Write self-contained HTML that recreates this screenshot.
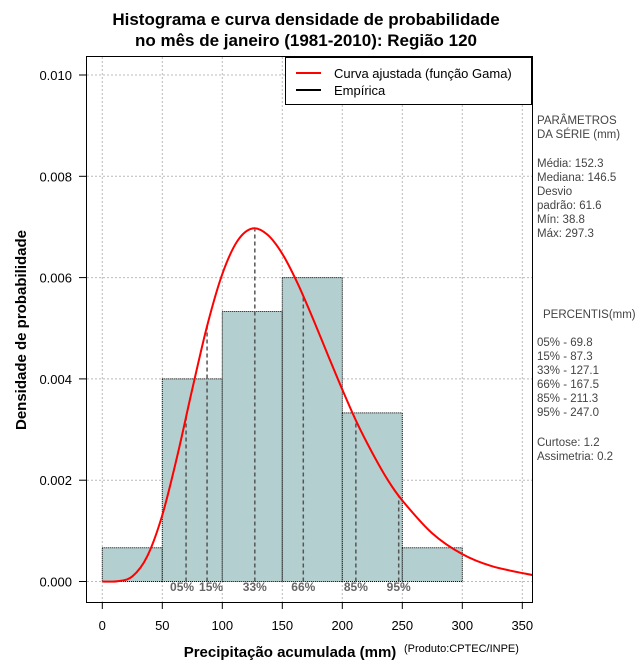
<!DOCTYPE html>
<html><head><meta charset="utf-8"><style>
body{margin:0;background:#fff;}
svg{display:block;font-family:"Liberation Sans",sans-serif;}
</style></head><body>
<svg id="chart" width="640" height="660">
<rect width="640" height="660" fill="#fff"/>
<text x="306" y="25" text-anchor="middle" font-size="17" font-weight="bold">Histograma e curva densidade de probabilidade</text>
<text x="306" y="46" text-anchor="middle" font-size="17" font-weight="bold">no mês de janeiro (1981-2010): Região 120</text>
<g id="grid"></g>
<g id="bars"></g>
<g id="pct"></g>
<path id="curve" fill="none" stroke="#ff0000" stroke-width="2"/>
<rect x="86.5" y="56.5" width="446" height="546" fill="none" stroke="#000"/>
<g id="axes" font-size="13"></g>
<text x="290" y="657" text-anchor="middle" font-size="15" font-weight="bold">Precipitação acumulada (mm)</text>
<text x="404" y="652" font-size="11">(Produto:CPTEC/INPE)</text>
<text transform="translate(26,330) rotate(-90)" text-anchor="middle" font-size="15" font-weight="bold">Densidade de probabilidade</text>
<g>
<rect x="285.5" y="57.5" width="246" height="47" fill="#fff" stroke="#000"/>
<line x1="296" y1="73" x2="321" y2="73" stroke="#ff0000" stroke-width="2"/>
<text x="334" y="78" font-size="13">Curva ajustada (função Gama)</text>
<line x1="296" y1="90" x2="321" y2="90" stroke="#000" stroke-width="2"/>
<text x="334" y="95" font-size="13">Empírica</text>
</g>
<g font-size="11.5" fill="#444" style="white-space:pre" xml:space="preserve">
<text x="537" y="124">PARÂMETROS</text>
<text x="537" y="138"> DA SÉRIE (mm)</text>
<text x="537" y="167">Média:  152.3</text>
<text x="537" y="181">Mediana:  146.5</text>
<text x="537" y="195">Desvio</text>
<text x="537" y="209">padrão:  61.6</text>
<text x="537" y="223">Mín:  38.8</text>
<text x="537" y="237">Máx:  297.3</text>
<text x="543" y="318">PERCENTIS(mm)</text>
<text x="537" y="346">05% -  69.8</text>
<text x="537" y="360">15% -  87.3</text>
<text x="537" y="374">33% -  127.1</text>
<text x="537" y="388">66% -  167.5</text>
<text x="537" y="402">85% -  211.3</text>
<text x="537" y="416">95% -  247.0</text>
<text x="537" y="446">Curtose:  1.2</text>
<text x="537" y="460">Assimetria:  0.2</text>
</g>
</svg>
<script>
const binStarts=[0,50,100,150,200,250];
const binDensity=[0.000667,0.004,0.00533,0.006,0.00333,0.000667];
const curveX=[0,12.5,25,37.5,50,62.5,75,87.5,100,112.5,125,137.5,150,162.5,175,187.5,200,212.5,225,237.5,250,275,300,325,360];
const curveY=[0,0.000005,0.0001,0.0005,0.00131,0.00248,0.0038,0.00506,0.00607,0.00672,0.00697,0.00685,0.00647,0.0059,0.00522,0.0045,0.00379,0.00312,0.00254,0.00202,0.0016,0.00095,0.00054,0.0003,0.00012];
const pctLabels=["05%","15%","33%","66%","85%","95%"];
const pctValues=[69.8,87.3,127.1,167.5,211.3,247.0];
const xTicks=[0,50,100,150,200,250,300,350];
const yTicks=[0,0.002,0.004,0.006,0.008,0.010];
const binWidth=50;
const NS="http://www.w3.org/2000/svg";
const X=v=>102.3+v*1.2;
const Y=v=>581.5-v*50650;
function mk(tag,attrs,parent){const e=document.createElementNS(NS,tag);for(const k in attrs)e.setAttribute(k,attrs[k]);parent.appendChild(e);return e;}
const grid=document.getElementById('grid'),bars=document.getElementById('bars'),pct=document.getElementById('pct'),axes=document.getElementById('axes');
xTicks.forEach(t=>{
 const l=mk('line',{x1:X(t),x2:X(t),y1:57,y2:602,stroke:'#bbb','stroke-dasharray':'2,2'},grid);
 
 
 const tk=mk('line',{x1:X(t),x2:X(t),y1:602,y2:609,stroke:'#000'},axes);
 
 
 const tx=mk('text',{x:X(t),y:630,'text-anchor':'middle'},axes);tx.textContent=t;
 
 
});
yTicks.forEach(t=>{
 const l=mk('line',{x1:87,x2:532,y1:Y(t),y2:Y(t),stroke:'#bbb','stroke-dasharray':'2,2'},grid);
 
 
 const tk=mk('line',{x1:79,x2:87,y1:Y(t),y2:Y(t),stroke:'#000'},axes);
 
 
 const tx=mk('text',{x:72,y:Y(t)+5,'text-anchor':'end'},axes);tx.textContent=t.toFixed(3);
 
 
});
binStarts.forEach((b,i)=>{
 const r=mk('rect',{x:X(b),y:Y(binDensity[i]),width:binWidth*1.2,height:Y(0)-Y(binDensity[i]),fill:'#b4cfcf',stroke:'#000','stroke-dasharray':'1,1'},bars);
 
 
});
function interp(x){for(let i=1;i<curveX.length;i++){if(x<=curveX[i]){const t=(x-curveX[i-1])/(curveX[i]-curveX[i-1]);return curveY[i-1]+t*(curveY[i]-curveY[i-1]);}}return curveY[curveY.length-1];}
pctValues.forEach((v,i)=>{
 const l=mk('line',{x1:X(v),x2:X(v),y1:Y(0),y2:Y(interp(v)),stroke:'#555','stroke-width':1.5,'stroke-dasharray':'4,3'},pct);
 
 
 const t=mk('text',{x:X(v)-(i==0?4:i==1?-4:0),y:591,'text-anchor':'middle','font-size':12,'font-weight':'bold',fill:'#666'},pct);t.textContent=pctLabels[i];
 
 
});
const pts=curveX.map((x,i)=>[X(x),Y(curveY[i])]);
let d='M'+pts[0][0]+','+pts[0][1];
for(let i=0;i<pts.length-1;i++){const p0=pts[Math.max(0,i-1)],p1=pts[i],p2=pts[i+1],p3=pts[Math.min(pts.length-1,i+2)];
 d+=' C'+(p1[0]+(p2[0]-p0[0])/6)+','+(p1[1]+(p2[1]-p0[1])/6)+' '+(p2[0]-(p3[0]-p1[0])/6)+','+(p2[1]-(p3[1]-p1[1])/6)+' '+p2[0]+','+p2[1];}
const c=document.getElementById('curve');c.setAttribute('d',d);
const cpEl=mk('clipPath',{id:'cp'},document.getElementById('chart'));
mk('rect',{x:87,y:57,width:445,height:545},cpEl);
c.setAttribute('clip-path','url(#cp)');
</script>
</body></html>
